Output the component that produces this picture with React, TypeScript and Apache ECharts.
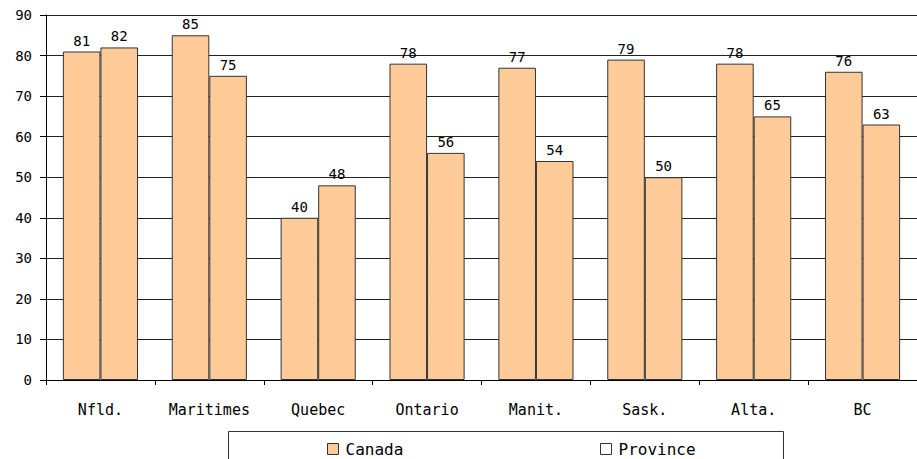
import React, { useEffect, useRef } from "react";
import * as echarts from "echarts";

const categories = ["Nfld.", "Maritimes", "Quebec", "Ontario", "Manit.", "Sask.", "Alta.", "BC"];
const canadaValues = [81, 85, 40, 78, 77, 79, 78, 76];
const provinceValues = [82, 75, 48, 56, 54, 50, 65, 63];
const seriesNames = ["Canada", "Province"];

const FONT = "DejaVu Sans Mono";
const PEACH = "#FFCC99";

export default function App() {
  const ref = useRef<HTMLDivElement>(null);
  useEffect(() => {
    if (!ref.current) return;
    const chart = echarts.init(ref.current, null, { renderer: "svg" });
    const barStyle = { color: PEACH, borderColor: "#333", borderWidth: 1 };
    const label = {
      show: true,
      position: "top" as const,
      distance: 4,
      color: "#000",
      fontFamily: FONT,
      fontSize: 14,
    };
    chart.setOption({
      animation: false,
      backgroundColor: "#fff",
      grid: { left: 46, right: -10, top: 15, bottom: 79, containLabel: false },
      graphic: [
        {
          type: "rect",
          shape: { x: 228.5, y: 431.5, width: 555, height: 40 },
          style: { fill: "#fff", stroke: "#333", lineWidth: 1 },
          z: 0,
        },
      ],
      legend: [
        {
          left: 322,
          top: 436,
          itemWidth: 11,
          itemHeight: 11,
          itemGap: 6,
          icon: "rect",
          data: [{ name: seriesNames[0], itemStyle: { color: PEACH, borderColor: "#333", borderWidth: 1 } }],
          textStyle: { fontFamily: FONT, fontSize: 16, color: "#000", padding: [0, 0, 0, 2] },
          z: 5,
        },
        {
          left: 595,
          top: 436,
          itemWidth: 11,
          itemHeight: 11,
          icon: "rect",
          data: [{ name: seriesNames[1], itemStyle: { color: "#fff", borderColor: "#333", borderWidth: 1 } }],
          textStyle: { fontFamily: FONT, fontSize: 16, color: "#000", padding: [0, 0, 0, 2] },
          z: 5,
        },
      ],
      xAxis: {
        type: "category",
        data: categories,
        axisLine: { show: true, lineStyle: { color: "#000", width: 1 } },
        axisTick: { show: true, length: 5, lineStyle: { color: "#000" } },
        axisLabel: { color: "#000", fontFamily: FONT, fontSize: 15, margin: 22 },
        splitLine: { show: false },
      },
      yAxis: {
        type: "value",
        min: 0,
        max: 90,
        interval: 10,
        axisLine: { show: true, lineStyle: { color: "#000", width: 1 } },
        axisTick: { show: true, length: 6, lineStyle: { color: "#000" } },
        axisLabel: { color: "#000", fontFamily: FONT, fontSize: 14, margin: 14 },
        splitLine: { show: true, lineStyle: { color: "#222", width: 1 } },
      },
      series: [
        {
          name: seriesNames[0],
          type: "bar",
          data: canadaValues,
          itemStyle: barStyle,
          label,
          barGap: "0%",
          barCategoryGap: "31%",
        },
        {
          name: seriesNames[1],
          type: "bar",
          data: provinceValues,
          itemStyle: barStyle,
          label,
          barGap: "0%",
          barCategoryGap: "31%",
        },
      ],
    });
    return () => chart.dispose();
  }, []);
  return <div ref={ref} style={{ width: 917, height: 459, position: "absolute", left: 0, top: 0 }} />;
}
